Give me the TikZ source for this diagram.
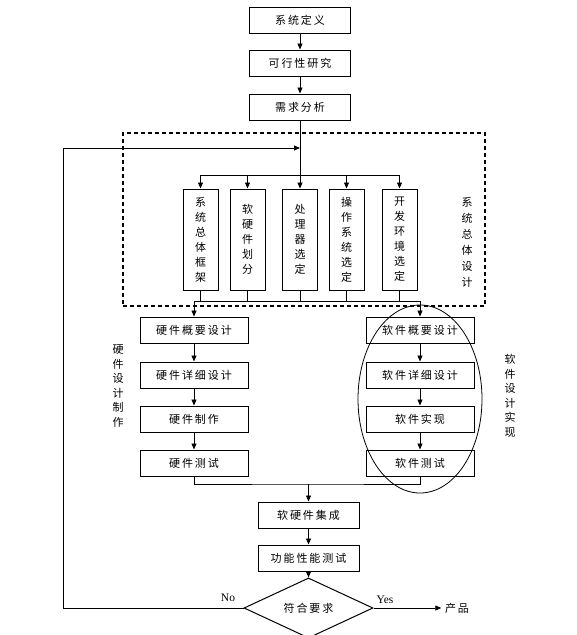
\documentclass[tikz,border=0pt]{standalone}
\usepackage{fontspec}
\setmainfont{Liberation Serif}
\newfontfamily\cjk[LetterSpace=18]{Noto Sans CJK SC}
\usetikzlibrary{shapes,arrows.meta,positioning}

\begin{document}
\begin{tikzpicture}[x=1pt, y=-1pt, line width=0.8pt, >={Triangle[length=6pt,width=5pt]},
	every node/.style={font=\cjk\fontsize{11}{15}\selectfont},
	box/.style={draw, line width=1pt, minimum width=101pt, minimum height=26pt, inner sep=0pt},
	hwbox/.style={draw, line width=1pt, minimum width=108pt, minimum height=26pt, inner sep=0pt},
	vbox/.style={draw, line width=1pt, minimum width=35pt, minimum height=101pt, inner sep=0pt, align=center},
	side/.style={align=center}]
			\useasboundingbox (0,0) rectangle (577,635);
			% system definition
			\node[box] (def) at (300,20) {系统定义};
			\node[box, below=16pt of def] (feas) {可行性研究};
			\node[box, below=17pt of feas] (req) {需求分析};
			
			\node[draw, dash pattern=on 4pt off 3pt, line width=1.2pt, minimum width=362pt, minimum height=173pt] (sys) at (304,219.5) {};
			\node[vbox] (v1) at (200.5,239.5) {系\\统\\总\\体\\框\\架};
			\node[vbox] (v2) at (247.5,239.5) {软\\硬\\件\\划\\分};
			\node[vbox] (v3) at (300,239.5) {处\\理\\器\\选\\定};
			\node[vbox] (v4) at (346.5,239.5) {操\\作\\系\\统\\选\\定};
			\node[vbox] (v5) at (399.5,239.5) {开\\发\\环\\境\\选\\定};
			\node[side, font=\cjk\fontsize{11}{16}\selectfont] (syslbl) at (467,242) {系\\统\\总\\体\\设\\计};
			
			% hardware / software
			\node[hwbox] (hw1) at (194,330) {硬件概要设计};
			\node[hwbox, below=18pt of hw1] (hw2) {硬件详细设计};
			\node[hwbox, below=17pt of hw2] (hw3) {硬件制作};
			\node[hwbox, below=17pt of hw3] (hw4) {硬件测试};
			\node[side, font=\cjk\fontsize{11}{14.5}\selectfont] (hwlbl) at (118,386) {硬\\件\\设\\计\\制\\作};
			
			\node[hwbox] (sw1) at (420,330) {软件概要设计};
			\node[hwbox, below=18pt of sw1] (sw2) {软件详细设计};
			\node[hwbox, below=17pt of sw2] (sw3) {软件实现};
			\node[hwbox, below=17pt of sw3] (sw4) {软件测试};
			\node[draw, ellipse, minimum width=124pt, minimum height=188pt] (swring) at (420,399) {};
			\node[side, font=\cjk\fontsize{11}{14.5}\selectfont] (swlbl) at (510,396) {软\\件\\设\\计\\实\\现};
			
			% integration and check
			\node[box] (int) at (308.5,515) {软硬件集成};
			\node[box, below=16pt of int] (test) {功能性能测试};
			\node[draw, line width=1pt, diamond, minimum width=129pt, minimum height=40pt, inner sep=0pt] (chk) at (308.5,608) {符合要求};
			\node (prod) at (457,608) {产品};
			\node[font=\rmfamily\fontsize{11.5}{13}\selectfont] (nolbl) at (228,598) {No};
			\node[font=\rmfamily\fontsize{11.5}{13}\selectfont] (yeslbl) at (385,600) {Yes};
			
			\coordinate (entry) at (300,148);
			\coordinate (back) at (63,148);
			\coordinate (busL) at (200.5,175);
			\coordinate (busR) at (399.5,175);
			\coordinate (lowL) at (194,301);
			\coordinate (lowR) at (420,301);
			\coordinate (join) at (308.5,484);
			
			\draw[->] (def) -- (feas);
			\draw[->] (feas) -- (req);
			\draw[->] (req) -- (v3);
			\draw (busL) -- (busR);
			\draw[->] (busL) -- (v1);
			\draw[->] (v2 |- busL) -- (v2);
			\draw[->] (v4 |- busL) -- (v4);
			\draw[->] (busR) -- (v5);
			\draw (v1) -- (v1 |- lowL);
			\draw (v2) -- (v2 |- lowL);
			\draw (v3) -- (v3 |- lowL);
			\draw (v4) -- (v4 |- lowL);
			\draw (v5) -- (v5 |- lowL);
			\draw (lowL) -- (lowR);
			\draw[->] (lowL) -- (hw1);
			\draw[->] (lowR) -- (sw1);
			\draw[->] (hw1) -- (hw2);
			\draw[->] (hw2) -- (hw3);
			\draw[->] (hw3) -- (hw4);
			\draw[->] (sw1) -- (sw2);
			\draw[->] (sw2) -- (sw3);
			\draw[->] (sw3) -- (sw4);
			\draw (hw4) |- (join) -| (sw4);
			\draw[->] (join) -- (int);
			\draw[->] (int) -- (test);
			\draw[->] (test) -- (chk);
			\draw[->] (chk) -- (prod);
			\draw[->] (chk.west) -| (back) -- (entry);
		\end{tikzpicture}
\end{document}
